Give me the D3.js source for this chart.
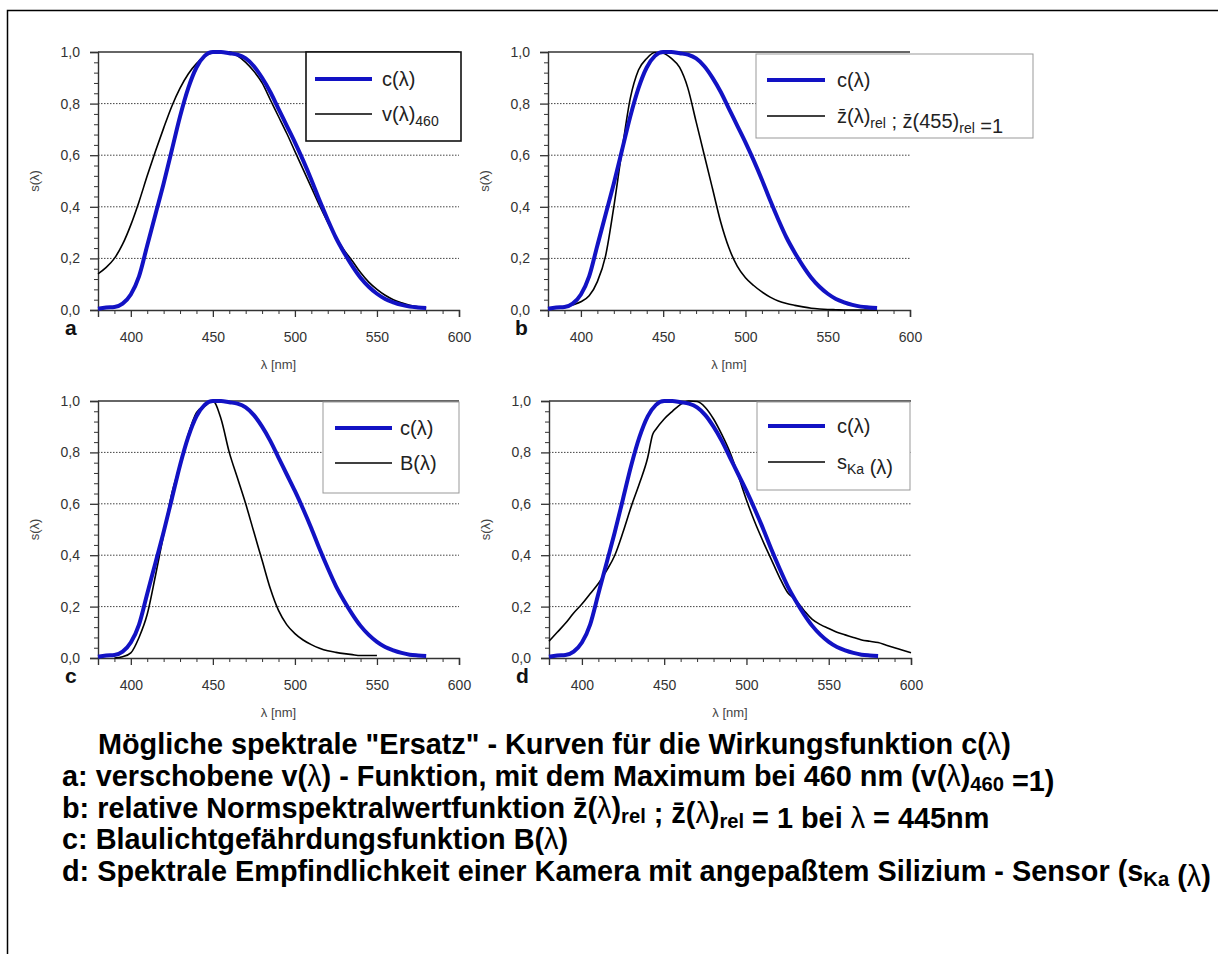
<!DOCTYPE html>
<html>
<head>
<meta charset="utf-8">
<script src="https://cdn.jsdelivr.net/npm/d3@7"></script>
<style>
  body { margin: 0; background: #fff; }
  svg { display: block; font-family: "Liberation Sans", Arial, sans-serif; }
</style>
</head>
<body>
<div id="chart"></div>
<script>
// wavelengths (nm) used for c(λ), v(λ)460 and z(λ)rel
var lam5 = [380,385,390,395,400,405,410,415,420,425,430,435,440,445,450,455,460,465,470,475,480,
            485,490,495,500,505,510,515,520,525,530,535,540,545,550,555,560,565,570,575,580];
var cLambda = [0.005,0.01,0.012,0.025,0.06,0.13,0.25,0.37,0.49,0.62,0.75,0.86,0.94,0.985,1.0,1.0,0.995,0.99,0.975,0.945,0.9,
               0.845,0.78,0.715,0.65,0.58,0.505,0.425,0.35,0.28,0.222,0.17,0.125,0.09,0.063,0.043,0.03,0.02,0.013,0.01,0.008];
var vLambda460 = [0.14,0.165,0.2,0.255,0.33,0.42,0.52,0.615,0.705,0.79,0.86,0.915,0.955,0.983,0.997,1.0,1.0,0.985,0.96,0.925,0.88,
                  0.815,0.75,0.685,0.615,0.545,0.475,0.405,0.34,0.28,0.232,0.19,0.145,0.108,0.08,0.057,0.04,0.028,0.018,0.012,0.008];
var zRel = [0.005,0.008,0.01,0.02,0.032,0.055,0.11,0.21,0.4,0.62,0.82,0.93,0.975,0.998,0.995,0.975,0.94,0.86,0.73,0.6,0.47,
            0.34,0.24,0.17,0.125,0.095,0.07,0.05,0.035,0.025,0.018,0.012,0.007,0.004,0.002,0.001,0,0,0,0,0];
// blue light hazard B(λ)
var bNm = [390,395,400,405,410,415,420,425,430,435,440,445,450,455,460,465,470,475,480,485,490,495,500,505,510,515,520,525,530,535,540,545,550];
var bLambda = [0.0,0.005,0.02,0.08,0.17,0.32,0.48,0.64,0.75,0.87,0.955,0.98,1.0,0.93,0.8,0.7,0.6,0.49,0.38,0.27,0.185,0.13,0.095,0.07,0.052,0.038,0.028,0.022,0.017,0.013,0.01,0.01,0.01];
// camera sensor s_Ka(λ)
var sNm = [380,385,390,395,400,405,410,415,420,425,430,435,440,443,445,450,455,460,465,470,475,480,485,490,495,500,
           505,510,515,520,525,530,535,540,545,550,555,560,565,570,575,580,585,590,595,600];
var sKa = [0.065,0.1,0.135,0.175,0.21,0.25,0.29,0.34,0.4,0.49,0.59,0.68,0.78,0.87,0.89,0.93,0.96,0.987,1.0,0.998,0.975,0.93,0.87,0.8,0.71,0.615,
           0.53,0.455,0.385,0.315,0.255,0.225,0.185,0.15,0.13,0.115,0.1,0.09,0.08,0.07,0.065,0.06,0.05,0.04,0.03,0.02];

var xTicks = [400,450,500,550,600];
var yTicks = [0,0.2,0.4,0.6,0.8,1.0];

var W = 1218, H = 954;
var svg = d3.select("#chart").append("svg").attr("width", W).attr("height", H);

// outer frame (left + top only)
svg.append("path").attr("d", "M7.5,954 V10.5 H1218").attr("fill", "none").attr("stroke", "#000").attr("stroke-width", 1.5);

var panels = [
  {lab: "a", left: 98, right: 459, top: 52, bottom: 310, bx: lam5, by: vLambda460,
   leg: {x0: 306, x1: 461, y0: 52, y1: 141, stroke: "#111", sw: 1.6, r1: 79, r2: 114, s0: 315, s1: 372, tx: 382}},
  {lab: "b", left: 548, right: 910, top: 52, bottom: 310, bx: lam5, by: zRel,
   leg: {x0: 756, x1: 1033, y0: 54, y1: 138, stroke: "#999", sw: 1, r1: 80, r2: 116, s0: 767, s1: 825, tx: 837}},
  {lab: "c", left: 98, right: 459, top: 401, bottom: 658, bx: bNm, by: bLambda,
   leg: {x0: 323, x1: 459, y0: 402, y1: 493, stroke: "#999", sw: 1, r1: 428, r2: 463, s0: 335, s1: 392, tx: 400}},
  {lab: "d", left: 549, right: 911, top: 401, bottom: 658, bx: sNm, by: sKa,
   leg: {x0: 757, x1: 910, y0: 402, y1: 490, stroke: "#999", sw: 1, r1: 426, r2: 462, s0: 768, s1: 825, tx: 837}}
];

var blue = "#1212c4";
var comma = function(v) { return d3.format(".1f")(v).replace(".", ","); };

panels.forEach(function(p) {
  var x = d3.scaleLinear().domain([380, 600]).range([p.left, p.right]);
  var y = d3.scaleLinear().domain([0, 1]).range([p.bottom, p.top]);
  var g = svg.append("g");

  // dotted grid
  g.selectAll(".grid").data([0.2, 0.4, 0.6, 0.8]).enter().append("line")
    .attr("x1", p.left).attr("x2", p.right)
    .attr("y1", d => y(d)).attr("y2", d => y(d))
    .attr("stroke", "#444").attr("stroke-width", 1).attr("stroke-dasharray", "1.5,1.5");
  // top frame line
  g.append("line").attr("x1", p.left).attr("x2", p.right).attr("y1", y(1)).attr("y2", y(1))
    .attr("stroke", "#333").attr("stroke-width", 1.3);

  // x axis
  var xa = g.append("g").attr("transform", "translate(0," + p.bottom + ")")
    .call(d3.axisBottom(x).tickValues(xTicks).tickSize(7).tickPadding(15).tickFormat(d3.format("d")));
  xa.select(".domain").attr("stroke", "#333").attr("stroke-width", 1.4);
  xa.selectAll(".tick line").attr("stroke", "#333").attr("stroke-width", 1.3);
  xa.selectAll("text").attr("font-size", 14).attr("fill", "#333").attr("font-family", "Liberation Sans, Arial");
  g.append("g").attr("transform", "translate(0," + p.bottom + ")")
    .call(d3.axisBottom(x).tickValues(d3.range(380, 600, 10).filter(v => v % 50 !== 0)).tickSize(4).tickFormat(""))
    .call(s => s.select(".domain").remove())
    .selectAll("line").attr("stroke", "#333");

  // y axis
  var ya = g.append("g").attr("transform", "translate(" + p.left + ",0)")
    .call(d3.axisLeft(y).tickValues(yTicks).tickSize(8).tickPadding(10).tickFormat(comma));
  ya.select(".domain").attr("stroke", "#333").attr("stroke-width", 1.4);
  ya.selectAll(".tick line").attr("stroke", "#333").attr("stroke-width", 1.3);
  ya.selectAll("text").attr("font-size", 14).attr("fill", "#333").attr("font-family", "Liberation Sans, Arial");
  g.append("g").attr("transform", "translate(" + p.left + ",0)")
    .call(d3.axisLeft(y).tickValues(d3.range(0.04, 1, 0.04).filter(v => Math.abs(v * 5 - Math.round(v * 5)) > 0.01)).tickSize(4).tickFormat(""))
    .call(s => s.select(".domain").remove())
    .selectAll("line").attr("stroke", "#333");

  // axis titles
  g.append("text").attr("x", (p.left + p.right) / 2).attr("y", p.bottom + 59)
    .attr("text-anchor", "middle").attr("font-size", 13).attr("fill", "#444").text("λ [nm]");
  g.append("text").attr("transform", "translate(" + (p.left - 59) + "," + ((p.top + p.bottom) / 2) + ") rotate(-90)")
    .attr("text-anchor", "middle").attr("font-size", 13).attr("fill", "#444").text("s(λ)");

  // panel letter
  g.append("text").attr("x", p.left - 33).attr("y", p.bottom + 25)
    .attr("font-size", 21).attr("font-weight", "bold").attr("fill", "#111").text(p.lab);

  var line = d3.line().x(d => x(d[0])).y(d => y(d[1])).curve(d3.curveMonotoneX);
  g.append("path").datum(d3.zip(p.bx, p.by)).attr("d", line)
    .attr("fill", "none").attr("stroke", "#000").attr("stroke-width", 1.6);
  g.append("path").datum(d3.zip(lam5, cLambda)).attr("d", line)
    .attr("fill", "none").attr("stroke", blue).attr("stroke-width", 4).attr("stroke-linejoin", "round");

  // legend
  var L = p.leg;
  g.append("rect").attr("x", L.x0).attr("y", L.y0).attr("width", L.x1 - L.x0).attr("height", L.y1 - L.y0)
    .attr("fill", "#fff").attr("stroke", L.stroke).attr("stroke-width", L.sw);
  g.append("line").attr("x1", L.s0).attr("x2", L.s1).attr("y1", L.r1).attr("y2", L.r1)
    .attr("stroke", blue).attr("stroke-width", 4);
  g.append("line").attr("x1", L.s0).attr("x2", L.s1).attr("y1", L.r2).attr("y2", L.r2)
    .attr("stroke", "#000").attr("stroke-width", 1.6);
  g.append("text").attr("x", L.tx).attr("y", L.r1 + 7).attr("font-size", 20).attr("fill", "#222").text("c(λ)");
  var t2 = g.append("text").attr("x", L.tx).attr("y", L.r2 + 7).attr("font-size", 20).attr("fill", "#222");
  var sub = function(t, s) { t.append("tspan").attr("font-size", 14).attr("dy", 5).text(s); t.append("tspan").attr("dy", -5).text(""); };
  if (p.lab === "a") { t2.append("tspan").text("v(λ)"); sub(t2, "460"); }
  if (p.lab === "b") {
    t2.append("tspan").text("z\u0304(λ)"); sub(t2, "rel");
    t2.append("tspan").text(" ; z\u0304(455)"); sub(t2, "rel");
    t2.append("tspan").text(" =1");
  }
  if (p.lab === "c") { t2.append("tspan").text("B(λ)"); }
  if (p.lab === "d") { t2.append("tspan").text("s"); sub(t2, "Ka"); t2.append("tspan").text(" (λ)"); }
});

// caption
var cap = svg.append("g").attr("font-weight", "bold").attr("fill", "#000");
function capLine(x0, yb) { return cap.append("text").attr("x", x0).attr("y", yb).attr("font-size", 20); }
function lam(t) { t.append("tspan").attr("font-weight", "normal").text("λ"); }
function csub(t, s) { t.append("tspan").attr("font-size", 14).attr("dy", 5).text(s); t.append("tspan").attr("dy", -5).text(""); }

var l1 = capLine(98, 754);
l1.append("tspan").text("Mögliche spektrale \"Ersatz\" - Kurven für die Wirkungsfunktion c("); lam(l1); l1.append("tspan").text(")");
var l2 = capLine(62, 786);
l2.append("tspan").text("a: verschobene v("); lam(l2); l2.append("tspan").text(") - Funktion, mit dem Maximum bei 460 nm (v(");
lam(l2); l2.append("tspan").text(")"); csub(l2, "460"); l2.append("tspan").text(" =1)");
var l3 = capLine(62, 818);
l3.append("tspan").text("b: relative Normspektralwertfunktion z\u0304("); lam(l3); l3.append("tspan").text(")"); csub(l3, "rel");
l3.append("tspan").text(" ; z\u0304("); lam(l3); l3.append("tspan").text(")"); csub(l3, "rel");
l3.append("tspan").text(" = 1 bei "); lam(l3); l3.append("tspan").text(" = 445nm");
var l4 = capLine(62, 849);
l4.append("tspan").text("c: Blaulichtgefährdungsfunktion B("); lam(l4); l4.append("tspan").text(")");
var l5 = capLine(62, 881);
l5.append("tspan").text("d: Spektrale Empfindlichkeit einer Kamera mit angepaßtem Silizium - Sensor (s"); csub(l5, "Ka");
l5.append("tspan").text(" ("); lam(l5); l5.append("tspan").text(")");

// scale caption font so the first and last lines end where they do in the original
var w1 = l1.node().getComputedTextLength(), w5 = l5.node().getComputedTextLength();
var k = ((1014 - 98) / w1 + (1208 - 62) / w5) / 2;
cap.selectAll("text").attr("font-size", 20 * k);
cap.selectAll("tspan").each(function() {
  var fs = d3.select(this).attr("font-size");
  if (fs) d3.select(this).attr("font-size", fs * k);
});
</script>
</body>
</html>
